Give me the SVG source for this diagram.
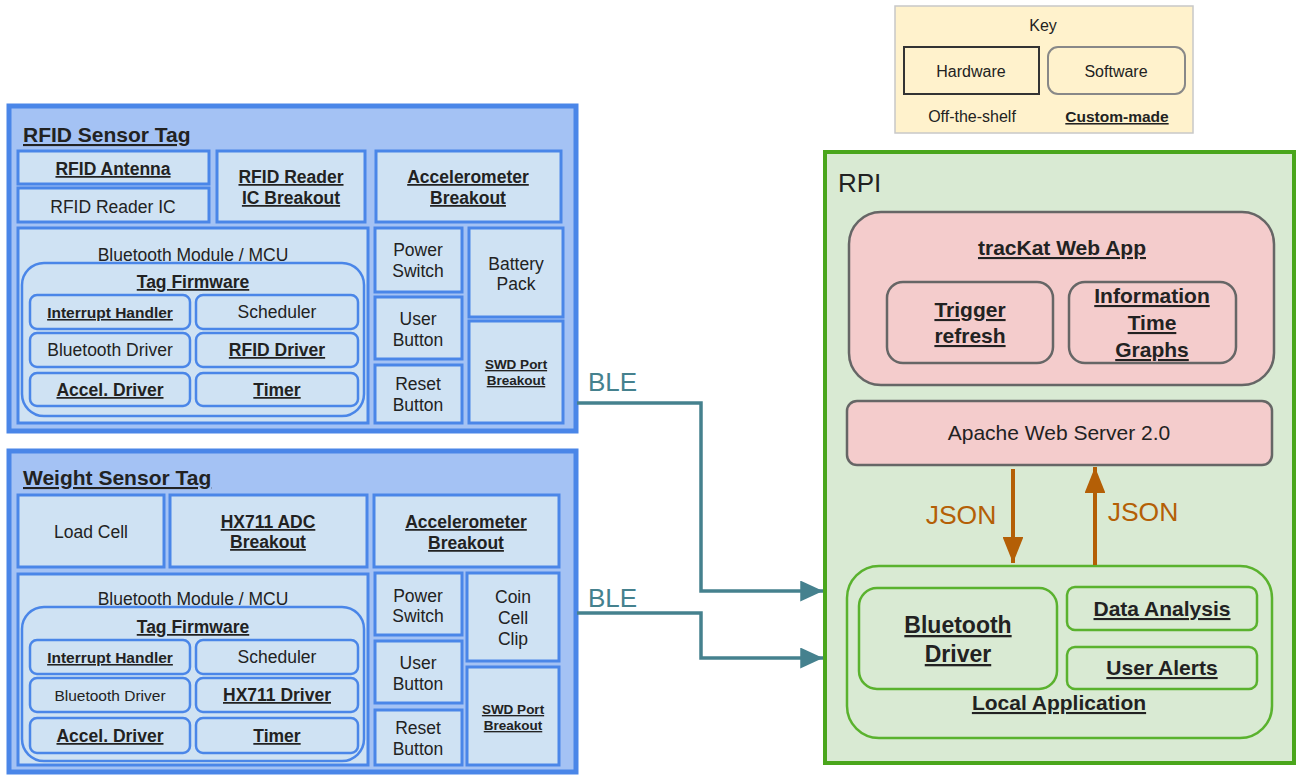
<svg xmlns="http://www.w3.org/2000/svg" width="1297" height="775" viewBox="0 0 1297 775">
<defs>
<style>
text{font-family:"Liberation Sans",Arial,sans-serif;fill:#222;text-anchor:middle}
.b{font-weight:bold;text-decoration:underline}
.s175{font-size:17.5px}
.s155{font-size:15.5px}
.s135{font-size:13.5px}
.tag{fill:#a4c2f4;stroke:#4a86e8;stroke-width:5}
.hw{fill:#cfe2f3;stroke:#4a86e8;stroke-width:3}
.sw{fill:#cfe2f3;stroke:#4a86e8;stroke-width:2.5}
.pk{fill:#f4cccc;stroke:#666;stroke-width:2.5}
.gr{fill:#d9ead3;stroke:#5ab22e;stroke-width:2.5}
.ble{fill:none;stroke:#45818e;stroke-width:3.5}
.json{fill:none;stroke:#b45f06;stroke-width:4}
</style>
<marker id="ab" viewBox="0 0 10 10" refX="10" refY="5" markerWidth="6.5" markerHeight="6" markerUnits="strokeWidth" orient="auto" preserveAspectRatio="none"><path d="M0,0L10,5L0,10z" fill="#45818e"/></marker>
<marker id="aj" viewBox="0 0 10 10" refX="10" refY="5" markerWidth="6.5" markerHeight="5.2" markerUnits="strokeWidth" orient="auto" preserveAspectRatio="none"><path d="M0,0L10,5L0,10z" fill="#b45f06"/></marker>
</defs>

<g id="key">
<rect x="895" y="6" width="298" height="127" fill="#fff2cc" stroke="#c8c8c8" stroke-width="1.5"/>
<text x="1043" y="31" font-size="16">Key</text>
<rect x="904" y="47" width="135" height="47" fill="none" stroke="#333" stroke-width="2"/>
<text x="971" y="77" font-size="16">Hardware</text>
<rect x="1048" y="47" width="137" height="47" rx="10" fill="none" stroke="#888" stroke-width="2"/>
<text x="1116" y="77" font-size="16">Software</text>
<text x="972" y="122" font-size="16">Off-the-shelf</text>
<text x="1117" y="122" font-size="15.5" class="b">Custom-made</text>
</g>

<g id="rfid-tag">
<rect class="tag" x="9" y="106" width="567" height="325"/>
<text x="23" y="142" font-size="21" class="b" style="text-anchor:start">RFID Sensor Tag</text>
<g id="rfid-antenna"><rect class="hw" x="18" y="151" width="191" height="33"/><text x="113" y="175" class="b s175">RFID Antenna</text></g>
<g id="rfid-reader-ic"><rect class="hw" x="18" y="188" width="191" height="34"/><text x="113" y="213" class="s175">RFID Reader IC</text></g>
<g id="rfid-reader-breakout"><rect class="hw" x="217" y="151" width="148" height="71"/><text x="291" y="183" class="b s175">RFID Reader</text><text x="291" y="204" class="b s175">IC Breakout</text></g>
<g id="rfid-accel-breakout"><rect class="hw" x="376" y="151" width="185" height="71"/><text x="468" y="183" class="b s175">Accelerometer</text><text x="468" y="204" class="b s175">Breakout</text></g>
<g id="rfid-mcu"><rect class="hw" x="18" y="228" width="350" height="195"/><text x="193" y="261" class="s175">Bluetooth Module / MCU</text></g>
<g id="rfid-firmware"><rect class="sw" x="22" y="263" width="342" height="153" rx="22"/><text x="193" y="288" class="b s175">Tag Firmware</text></g>
<g id="rfid-interrupt"><rect class="sw" x="30" y="295" width="160" height="34" rx="7"/><text x="110" y="318" class="b s155">Interrupt Handler</text></g>
<g id="rfid-scheduler"><rect class="sw" x="196" y="295" width="162" height="34" rx="7"/><text x="277" y="318" class="s175">Scheduler</text></g>
<g id="rfid-bt-driver"><rect class="sw" x="30" y="333" width="160" height="34" rx="7"/><text x="110" y="356" class="s175">Bluetooth Driver</text></g>
<g id="rfid-driver"><rect class="sw" x="196" y="333" width="162" height="34" rx="7"/><text x="277" y="356" class="b s175">RFID Driver</text></g>
<g id="rfid-accel-driver"><rect class="sw" x="30" y="373" width="160" height="33" rx="7"/><text x="110" y="396" class="b s175">Accel. Driver</text></g>
<g id="rfid-timer"><rect class="sw" x="196" y="373" width="162" height="33" rx="7"/><text x="277" y="396" class="b s175">Timer</text></g>
<g id="rfid-power"><rect class="hw" x="375" y="228" width="87" height="64"/><text x="418" y="256" class="s175">Power</text><text x="418" y="277" class="s175">Switch</text></g>
<g id="rfid-user"><rect class="hw" x="375" y="297" width="87" height="62"/><text x="418" y="325" class="s175">User</text><text x="418" y="346" class="s175">Button</text></g>
<g id="rfid-reset"><rect class="hw" x="375" y="365" width="87" height="58"/><text x="418" y="390" class="s175">Reset</text><text x="418" y="411" class="s175">Button</text></g>
<g id="rfid-battery"><rect class="hw" x="469" y="228" width="94" height="89"/><text x="516" y="270" class="s175">Battery</text><text x="516" y="290" class="s175">Pack</text></g>
<g id="rfid-swd"><rect class="hw" x="469" y="321" width="94" height="102"/><text x="516" y="369" class="b s135">SWD Port</text><text x="516" y="385" class="b s135">Breakout</text></g>
</g>

<g id="weight-tag">
<rect class="tag" x="9" y="451" width="567" height="321"/>
<text x="23" y="485" font-size="21" class="b" style="text-anchor:start">Weight Sensor Tag</text>
<g id="load-cell"><rect class="hw" x="18" y="495" width="146" height="72"/><text x="91" y="538" class="s175">Load Cell</text></g>
<g id="hx711-breakout"><rect class="hw" x="170" y="495" width="197" height="72"/><text x="268" y="528" class="b s175">HX711 ADC</text><text x="268" y="548" class="b s175">Breakout</text></g>
<g id="w-accel-breakout"><rect class="hw" x="374" y="495" width="185" height="72"/><text x="466" y="528" class="b s175">Accelerometer</text><text x="466" y="549" class="b s175">Breakout</text></g>
<g id="w-mcu"><rect class="hw" x="18" y="574" width="350" height="191"/><text x="193" y="605" class="s175">Bluetooth Module / MCU</text></g>
<g id="w-firmware"><rect class="sw" x="22" y="607" width="342" height="154" rx="22"/><text x="193" y="633" class="b s175">Tag Firmware</text></g>
<g id="w-interrupt"><rect class="sw" x="30" y="640" width="160" height="34" rx="7"/><text x="110" y="663" class="b s155">Interrupt Handler</text></g>
<g id="w-scheduler"><rect class="sw" x="196" y="640" width="162" height="34" rx="7"/><text x="277" y="663" class="s175">Scheduler</text></g>
<g id="w-bt-driver"><rect class="sw" x="30" y="678" width="160" height="34" rx="7"/><text x="110" y="701" class="s155">Bluetooth Driver</text></g>
<g id="hx711-driver"><rect class="sw" x="196" y="678" width="162" height="34" rx="7"/><text x="277" y="701" class="b s175">HX711 Driver</text></g>
<g id="w-accel-driver"><rect class="sw" x="30" y="718" width="160" height="35" rx="7"/><text x="110" y="742" class="b s175">Accel. Driver</text></g>
<g id="w-timer"><rect class="sw" x="196" y="718" width="162" height="35" rx="7"/><text x="277" y="742" class="b s175">Timer</text></g>
<g id="w-power"><rect class="hw" x="375" y="573" width="87" height="62"/><text x="418" y="602" class="s175">Power</text><text x="418" y="622" class="s175">Switch</text></g>
<g id="w-user"><rect class="hw" x="375" y="641" width="87" height="62"/><text x="418" y="669" class="s175">User</text><text x="418" y="690" class="s175">Button</text></g>
<g id="w-reset"><rect class="hw" x="375" y="710" width="87" height="55"/><text x="418" y="734" class="s175">Reset</text><text x="418" y="755" class="s175">Button</text></g>
<g id="coin-cell"><rect class="hw" x="467" y="573" width="92" height="88"/><text x="513" y="603" class="s175">Coin</text><text x="513" y="624" class="s175">Cell</text><text x="513" y="645" class="s175">Clip</text></g>
<g id="w-swd"><rect class="hw" x="467" y="667" width="92" height="98"/><text x="513" y="714" class="b s135">SWD Port</text><text x="513" y="730" class="b s135">Breakout</text></g>
</g>

<g id="rpi">
<rect x="825" y="152" width="469" height="611" fill="#d9ead3" stroke="#4aa61c" stroke-width="4"/>
<text x="838" y="192" font-size="26" style="text-anchor:start">RPI</text>
<g id="webapp"><rect class="pk" x="849" y="212" width="425" height="173" rx="32"/><text x="1062" y="255" font-size="21" class="b">tracKat Web App</text></g>
<g id="trigger"><rect class="pk" x="887" y="282" width="166" height="81" rx="16"/><text x="970" y="317" font-size="21" class="b">Trigger</text><text x="970" y="343" font-size="21" class="b">refresh</text></g>
<g id="info"><rect class="pk" x="1069" y="282" width="167" height="81" rx="16"/><text x="1152" y="303" font-size="21" class="b">Information</text><text x="1152" y="330" font-size="21" class="b">Time</text><text x="1152" y="357" font-size="21" class="b">Graphs</text></g>
<g id="apache"><rect class="pk" x="847" y="401" width="425" height="64" rx="10"/><text x="1059" y="440" font-size="21">Apache Web Server 2.0</text></g>
<g id="local-app"><rect class="gr" x="847" y="566" width="425" height="172" rx="32"/><text x="1059" y="710" font-size="21" class="b">Local Application</text></g>
<g id="rpi-bt-driver"><rect class="gr" x="859" y="588" width="198" height="101" rx="18"/><text x="958" y="633" font-size="23" class="b">Bluetooth</text><text x="958" y="662" font-size="23" class="b">Driver</text></g>
<g id="data-analysis"><rect class="gr" x="1067" y="587" width="190" height="43" rx="8"/><text x="1162" y="616" font-size="21" class="b">Data Analysis</text></g>
<g id="user-alerts"><rect class="gr" x="1067" y="647" width="190" height="42" rx="8"/><text x="1162" y="675" font-size="21" class="b">User Alerts</text></g>
</g>

<g id="connectors">
<path class="ble" d="M577,403H701V591H823" marker-end="url(#ab)"/>
<path class="ble" d="M577,613H701V658H823" marker-end="url(#ab)"/>
<text x="588" y="391" font-size="26" style="text-anchor:start;fill:#45818e">BLE</text>
<text x="588" y="607" font-size="26" style="text-anchor:start;fill:#45818e">BLE</text>
<path class="json" d="M1013,469V563" marker-end="url(#aj)"/>
<path class="json" d="M1095,565V467" marker-end="url(#aj)"/>
<text x="961" y="524" font-size="26.5" style="fill:#b45f06">JSON</text>
<text x="1143" y="521" font-size="26.5" style="fill:#b45f06">JSON</text>
</g>
</svg>
